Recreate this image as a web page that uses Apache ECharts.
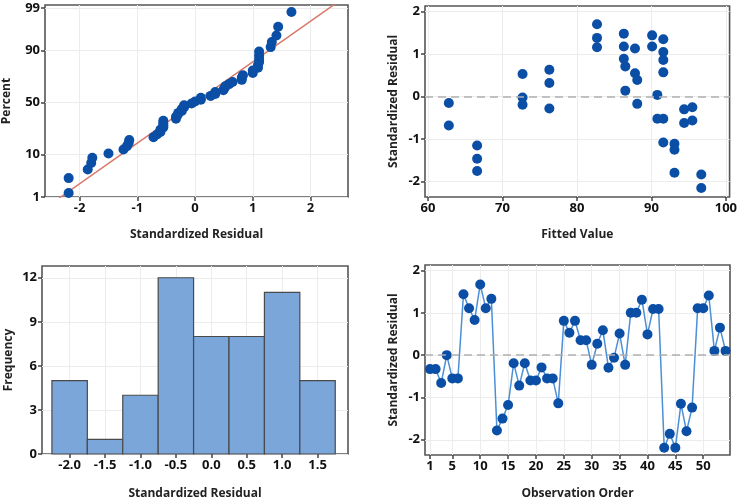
<!DOCTYPE html>
<html><head><meta charset="utf-8">
<script src="https://cdn.jsdelivr.net/npm/echarts@6/dist/echarts.min.js"></script>
<style>html,body{margin:0;padding:0;background:#fff}#c{width:740px;height:501px}</style>
</head><body><div id="c"></div>
<script>
// Standardized residuals in observation order (obs 1..54)
const residuals = [-0.33,-0.33,-0.66,0.00,-0.55,-0.55,1.44,1.11,0.83,1.67,1.11,1.33,-1.78,-1.50,-1.18,-0.19,-0.72,-0.19,-0.60,-0.60,-0.29,-0.55,-0.55,-1.14,0.81,0.53,0.81,0.35,0.35,-0.23,0.27,0.59,-0.30,-0.06,0.51,-0.23,1.00,1.00,1.31,0.49,1.09,1.09,-2.19,-1.86,-2.19,-1.15,-1.80,-1.24,1.11,1.11,1.41,0.10,0.65,0.10];
// Normal probability plot positions (percent) for the sorted residuals
const percentPositions = [1.29,3.13,4.96,6.80,8.64,10.48,12.32,14.15,15.99,17.83,19.67,21.51,23.35,25.18,27.02,28.86,30.70,32.54,34.38,36.21,38.05,39.89,41.73,43.57,45.40,47.24,49.08,50.92,52.76,54.60,56.43,58.27,60.11,61.95,63.79,65.62,67.46,69.30,71.14,72.98,74.82,76.65,78.49,80.33,82.17,84.01,85.85,87.68,89.52,91.36,93.20,95.04,96.88,98.71];
const fitMean = 0, fitSd = 1;
const percentTicks = [1,10,50,90,99];
const residualTicks = [-2,-1,0,1,2];
// Versus fits
const fittedValues = [62.8,62.8,66.6,66.6,66.6,72.7,72.7,72.7,76.3,76.3,76.3,82.7,82.7,82.7,86.3,86.3,86.3,86.5,86.5,87.8,87.8,88.1,88.1,90.1,90.1,90.8,90.8,91.6,91.6,91.6,91.6,91.6,91.6,93.1,93.1,93.1,94.4,94.4,95.5,95.5,96.7,96.7];
const fittedResiduals = [-0.15,-0.68,-1.15,-1.46,-1.75,0.53,-0.02,-0.19,0.63,0.32,-0.28,1.70,1.38,1.16,1.48,1.18,0.89,0.71,0.14,1.13,0.55,0.39,-0.17,1.44,1.18,0.04,-0.52,1.35,1.05,0.86,0.57,-0.52,-1.08,-1.11,-1.25,-1.79,-0.30,-0.62,-0.25,-0.56,-1.83,-2.15];
const fittedTicks = [60,70,80,90,100];
// Histogram
const histCenters = [-2.0,-1.5,-1.0,-0.5,0.0,0.5,1.0,1.5];
const histCounts = [5,1,4,12,8,8,11,5];
const histBinWidth = 0.5;
const freqTicks = [0,3,6,9,12];
// Versus order
const orderTicks = [1,5,10,15,20,25,30,35,40,45,50];

function normInv(p){
  const a=[-3.969683028665376e+01,2.209460984245205e+02,-2.759285104469687e+02,1.383577518672690e+02,-3.066479806614716e+01,2.506628277459239e+00];
  const b=[-5.447609879822406e+01,1.615858368580409e+02,-1.556989798598866e+02,6.680131188771720e+01,-1.328068155288572e+01];
  const c=[-7.784894002430293e-03,-3.223964580411365e-01,-2.400758276161355e+00,-2.549671625135502e+00,4.374664141464968e+00,2.938163982698783e+00];
  const d=[7.784695709041462e-03,3.224671290700398e-01,2.445134137142996e+00,3.754408661907416e+00];
  const pl=0.02425, ph=1-pl; let q,r;
  if(p<pl){q=Math.sqrt(-2*Math.log(p));return (((((c[0]*q+c[1])*q+c[2])*q+c[3])*q+c[4])*q+c[5])/((((d[0]*q+d[1])*q+d[2])*q+d[3])*q+1);}
  if(p<=ph){q=p-0.5;r=q*q;return (((((a[0]*r+a[1])*r+a[2])*r+a[3])*r+a[4])*r+a[5])*q/(((((b[0]*r+b[1])*r+b[2])*r+b[3])*r+b[4])*r+1);}
  q=Math.sqrt(-2*Math.log(1-p));return -(((((c[0]*q+c[1])*q+c[2])*q+c[3])*q+c[4])*q+c[5])/((((d[0]*q+d[1])*q+d[2])*q+d[3])*q+1);
}
const zOf = pct => normInv(pct/100);
const percentTickZ = percentTicks.map(zOf);
const sortedResiduals = residuals.slice().sort((x,y)=>x-y);

const FONT = 'Open Sans';
const DOT = '#0b4ea5';
const labelStyle = {color:'#111', fontFamily:FONT, fontWeight:'bold', fontSize:13};
const nameStyle = {color:'#222', fontFamily:FONT, fontWeight:'bold', fontSize:12};

function axis(gridIndex, opts){
  return Object.assign({
    gridIndex, type:'value',
    axisLine:{show:false, onZero:false},
    splitLine:{show:true, lineStyle:{color:'#ececec', width:1}},
    nameLocation:'middle', nameTextStyle:nameStyle
  }, opts);
}
function ticks(vals, fmt){
  return {
    axisTick:{show:true, inside:false, length:4, customValues:vals, lineStyle:{color:'#444', width:1.5}},
    axisLabel:Object.assign({margin:5, customValues:vals, formatter:fmt||(v=>String(v))}, labelStyle)
  };
}
function merge(a,b){ return Object.assign(a,b); }

const gridStyle = {show:true, borderColor:'#555', borderWidth:1.6, backgroundColor:'#fff', containLabel:false};

const zeroLine = {silent:true, symbol:'none', label:{show:false},
  lineStyle:{type:[8,5], color:'#b0b0b0', width:1.5}, data:[{yAxis:0}]};

const chart = echarts.init(document.getElementById('c'), null, {renderer:'canvas'});
chart.setOption({
  animation:false,
  backgroundColor:'#fff',
  grid:[
    Object.assign({left:45, top:5, width:303, height:192}, gridStyle),
    Object.assign({left:425, top:6, width:307, height:191}, gridStyle),
    Object.assign({left:42, top:266, width:306, height:193}, gridStyle),
    Object.assign({left:425, top:265, width:305, height:193}, gridStyle)
  ],
  xAxis:[
    merge(axis(0,{min:-2.6, max:2.65, name:'Standardized Residual', nameGap:32}), ticks(residualTicks)),
    merge(axis(1,{min:59.6, max:100.5, name:'Fitted Value', nameGap:32}), ticks(fittedTicks)),
    merge(axis(2,{min:-2.39, max:1.93, name:'Standardized Residual', nameGap:34}), ticks(histCenters, v=>v.toFixed(1))),
    merge(axis(3,{min:0.1, max:54.8, name:'Observation Order', nameGap:33}), ticks(orderTicks))
  ],
  yAxis:[
    merge(axis(0,{min:zOf(1)-0.0005, max:2.4, name:'Percent', nameGap:32}),
      ticks(percentTickZ, v=>{let k=0;percentTickZ.forEach((z,i)=>{if(Math.abs(z-v)<Math.abs(percentTickZ[k]-v))k=i;});return String(percentTicks[k]);})),
    merge(axis(1,{min:-2.36, max:2.13, name:'Standardized Residual', nameGap:25}), ticks(residualTicks)),
    merge(axis(2,{min:0, max:12.8, name:'Frequency', nameGap:27}), ticks(freqTicks)),
    merge(axis(3,{min:-2.36, max:2.13, name:'Standardized Residual', nameGap:25}), ticks(residualTicks))
  ],
  series:[
    {type:'line', xAxisIndex:0, yAxisIndex:0, symbol:'none', clip:true,
     lineStyle:{color:'#d9786b', width:1.5},
     data:[[-2.6,(-2.6-fitMean)/fitSd],[2.65,(2.65-fitMean)/fitSd]], z:2},
    {type:'scatter', xAxisIndex:0, yAxisIndex:0, symbol:'circle', symbolSize:10,
     itemStyle:{color:DOT, opacity:1}, z:3,
     data:sortedResiduals.map((r,i)=>[r, zOf(percentPositions[i])])},
    {type:'scatter', xAxisIndex:1, yAxisIndex:1, symbol:'circle', symbolSize:10,
     itemStyle:{color:DOT, opacity:1}, z:3,
     data:fittedValues.map((f,i)=>[f, fittedResiduals[i]]),
     markLine:zeroLine},
    {type:'custom', xAxisIndex:2, yAxisIndex:2,
     data:histCenters.map((c,i)=>[c, histCounts[i]]),
     renderItem:function(params, api){
       const c = api.value(0), n = api.value(1);
       const p0 = api.coord([c-histBinWidth/2, n]);
       const p1 = api.coord([c+histBinWidth/2, 0]);
       return {type:'rect', shape:{x:p0[0], y:p0[1], width:p1[0]-p0[0], height:p1[1]-p0[1]},
         style:{fill:'#7ba6da', stroke:'#4a4a4a', lineWidth:1.2}};
     }},
    {type:'line', xAxisIndex:3, yAxisIndex:3, symbol:'circle', symbolSize:10,
     itemStyle:{color:DOT, opacity:1}, lineStyle:{color:'#4c8fd6', width:1.5}, z:3,
     data:residuals.map((r,i)=>[i+1, r]),
     markLine:zeroLine}
  ]
});
</script></body></html>
